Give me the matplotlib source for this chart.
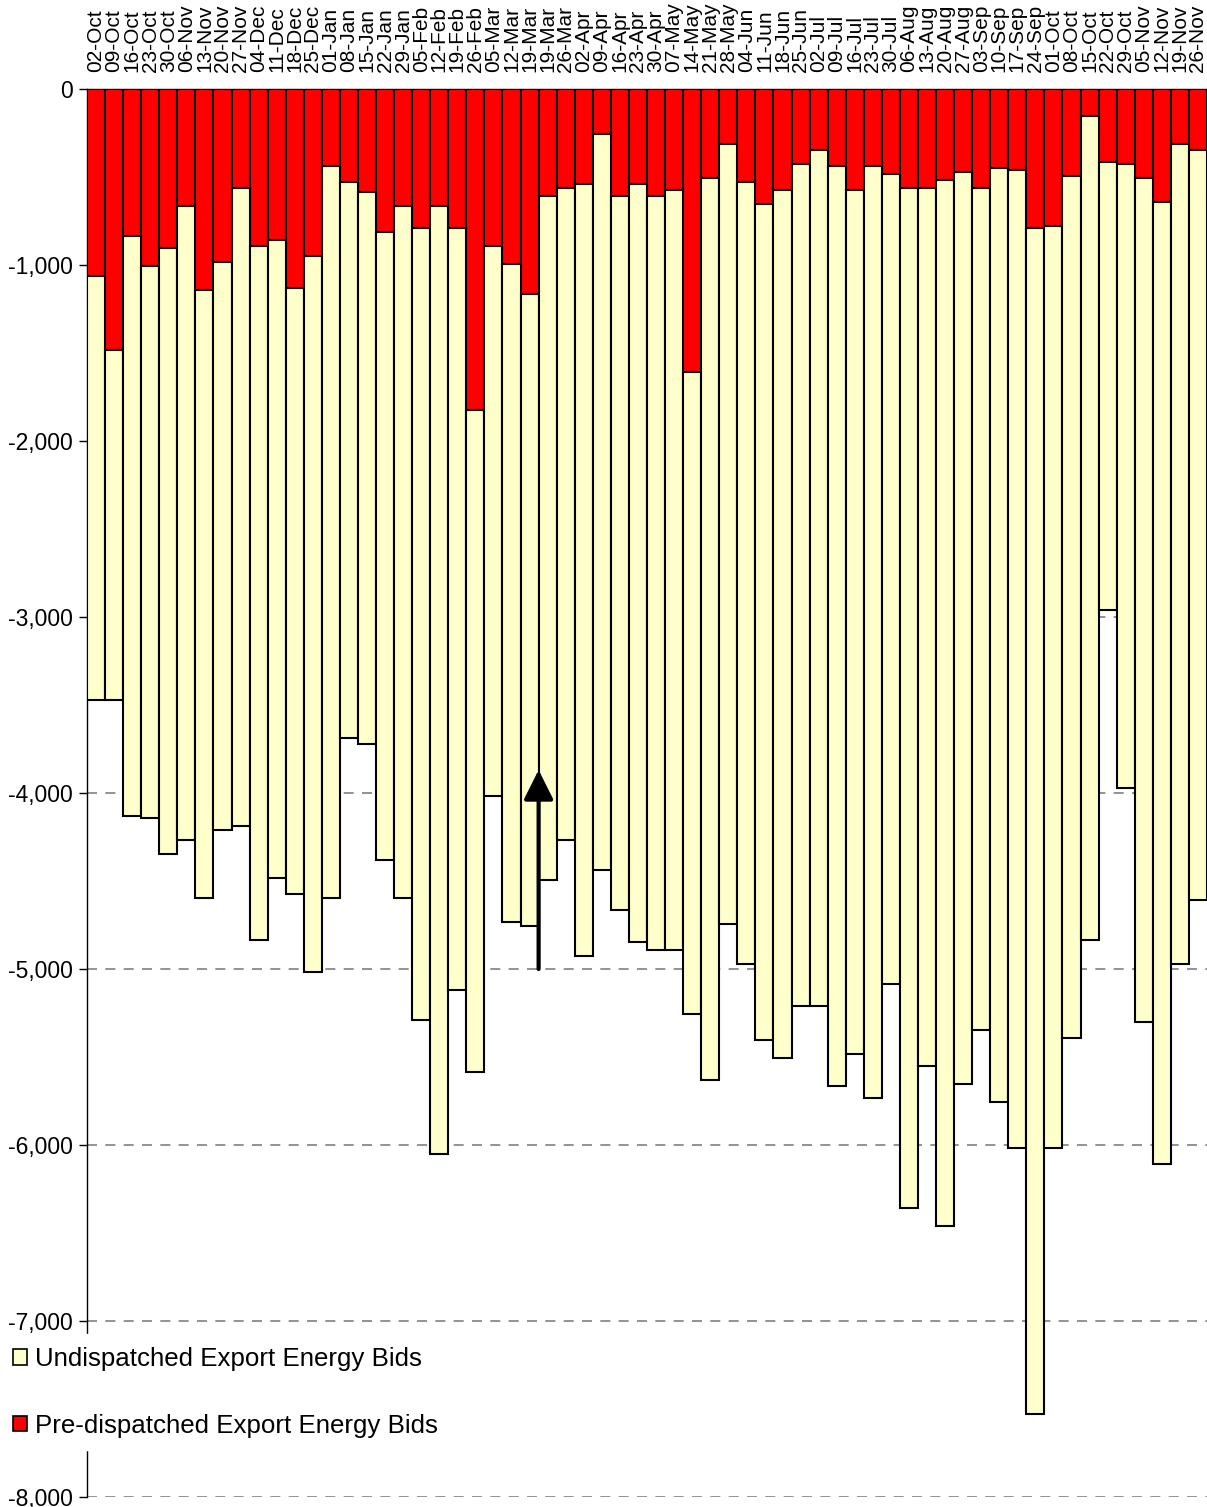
import matplotlib
matplotlib.use("Agg")
import matplotlib.pyplot as plt
import numpy as np
from matplotlib.patches import Patch
from matplotlib.ticker import FuncFormatter, MultipleLocator

plt.rcParams['font.family'] = ['Liberation Sans', 'DejaVu Sans']

weeks = ["02-Oct", "09-Oct", "16-Oct", "23-Oct", "30-Oct", "06-Nov", "13-Nov", "20-Nov",
         "27-Nov", "04-Dec", "11-Dec", "18-Dec", "25-Dec", "01-Jan", "08-Jan", "15-Jan",
         "22-Jan", "29-Jan", "05-Feb", "12-Feb", "19-Feb", "26-Feb", "05-Mar", "12-Mar",
         "19-Mar", "19-Mar", "26-Mar", "02-Apr", "09-Apr", "16-Apr", "23-Apr", "30-Apr",
         "07-May", "14-May", "21-May", "28-May", "04-Jun", "11-Jun", "18-Jun", "25-Jun",
         "02-Jul", "09-Jul", "16-Jul", "23-Jul", "30-Jul", "06-Aug", "13-Aug", "20-Aug",
         "27-Aug", "03-Sep", "10-Sep", "17-Sep", "24-Sep", "01-Oct", "08-Oct", "15-Oct",
         "22-Oct", "29-Oct", "05-Nov", "12-Nov", "19-Nov", "26-Nov"]

pre_dispatched = [-1062, -1483, -835, -1006, -903, -665, -1142, -983,
                  -563, -892, -858, -1131, -949, -438, -528, -585,
                  -813, -665, -790, -665, -790, -1824, -892, -994,
                  -1165, -608, -563, -540, -256, -608, -540, -608,
                  -574, -1608, -506, -313, -528, -653, -574, -426,
                  -347, -438, -574, -438, -483, -563, -563, -517,
                  -472, -563, -449, -460, -790, -778, -494, -153,
                  -415, -426, -506, -642, -313, -347]

undispatched = [-2410, -1989, -3296, -3136, -3444, -3602, -3455, -3227,
                -3625, -3943, -3625, -3443, -4068, -4159, -3160, -3137,
                -3568, -3932, -4500, -5386, -4329, -3761, -3125, -3739,
                -3591, -3886, -3704, -4386, -4182, -4057, -4307, -4284,
                -4318, -3648, -5125, -4431, -4444, -4750, -4932, -4784,
                -4863, -5227, -4909, -5295, -4602, -5795, -4988, -5943,
                -5181, -4784, -5307, -5557, -6738, -5239, -4898, -4682,
                -2545, -3546, -4795, -5466, -4659, -4261]

arrow_week = 24.5
arrow_from = -5000
arrow_to = -3869

W, H = 1207, 1507
fig = plt.figure(figsize=(W / 100, H / 100), dpi=100)
ax = fig.add_axes([87 / W, 10 / H, 1120 / W, (1497 - 89) / H])

x = np.arange(len(weeks))
red = "#FF0000"
yellow = "#FFFFCC"
ax.bar(x, pre_dispatched, width=1.0, color=red, edgecolor="black", linewidth=1.5, zorder=3)
ax.bar(x, undispatched, bottom=pre_dispatched, width=1.0, color=yellow,
       edgecolor="black", linewidth=1.5, zorder=3)

ax.set_xlim(-0.5, len(weeks) - 0.5)
ax.set_ylim(-8000, 0)

ax.yaxis.set_major_locator(MultipleLocator(1000))
ax.yaxis.set_major_formatter(FuncFormatter(lambda v, p: "0" if v == 0 else "-{:,}".format(int(round(-v)))))
ax.tick_params(axis="y", direction="out", length=6, width=1, labelsize=16.5, pad=4, colors="black")
ax.grid(axis="y", color="#808080", linestyle=(0, (6, 5)), linewidth=1.2, zorder=0)
ax.set_axisbelow(True)

ax.xaxis.tick_top()
ax.set_xticks(x)
ax.set_xticklabels(weeks, rotation=90, fontsize=15)
ax.tick_params(axis="x", length=0, pad=12)
for lbl in ax.get_xticklabels():
    lbl.set_verticalalignment("bottom")

for s in ["right", "bottom"]:
    ax.spines[s].set_visible(False)
for s in ["left", "top"]:
    ax.spines[s].set_color("black")
    ax.spines[s].set_linewidth(1.0)

ax.annotate("", xy=(arrow_week, arrow_to), xytext=(arrow_week, arrow_from),
            arrowprops=dict(arrowstyle="-|>", color="black", lw=3,
                            mutation_scale=45, shrinkA=0, shrinkB=0), zorder=6)

handles = [Patch(facecolor=yellow, edgecolor="black", linewidth=1.2),
           Patch(facecolor=red, edgecolor="black", linewidth=1.2)]
leg = fig.legend(handles, ["Undispatched Export Energy Bids", "Pre-dispatched Export Energy Bids"],
                 loc="upper left", bbox_to_anchor=(0.0, 1 - 1334 / H), fontsize=18.6,
                 frameon=True, facecolor="white", edgecolor="white", framealpha=1.0,
                 handlelength=0.55, handleheight=0.55, handletextpad=0.3,
                 labelspacing=1.65, borderpad=0.5, borderaxespad=0, fancybox=False)

fig.savefig("out.png", dpi=100)
